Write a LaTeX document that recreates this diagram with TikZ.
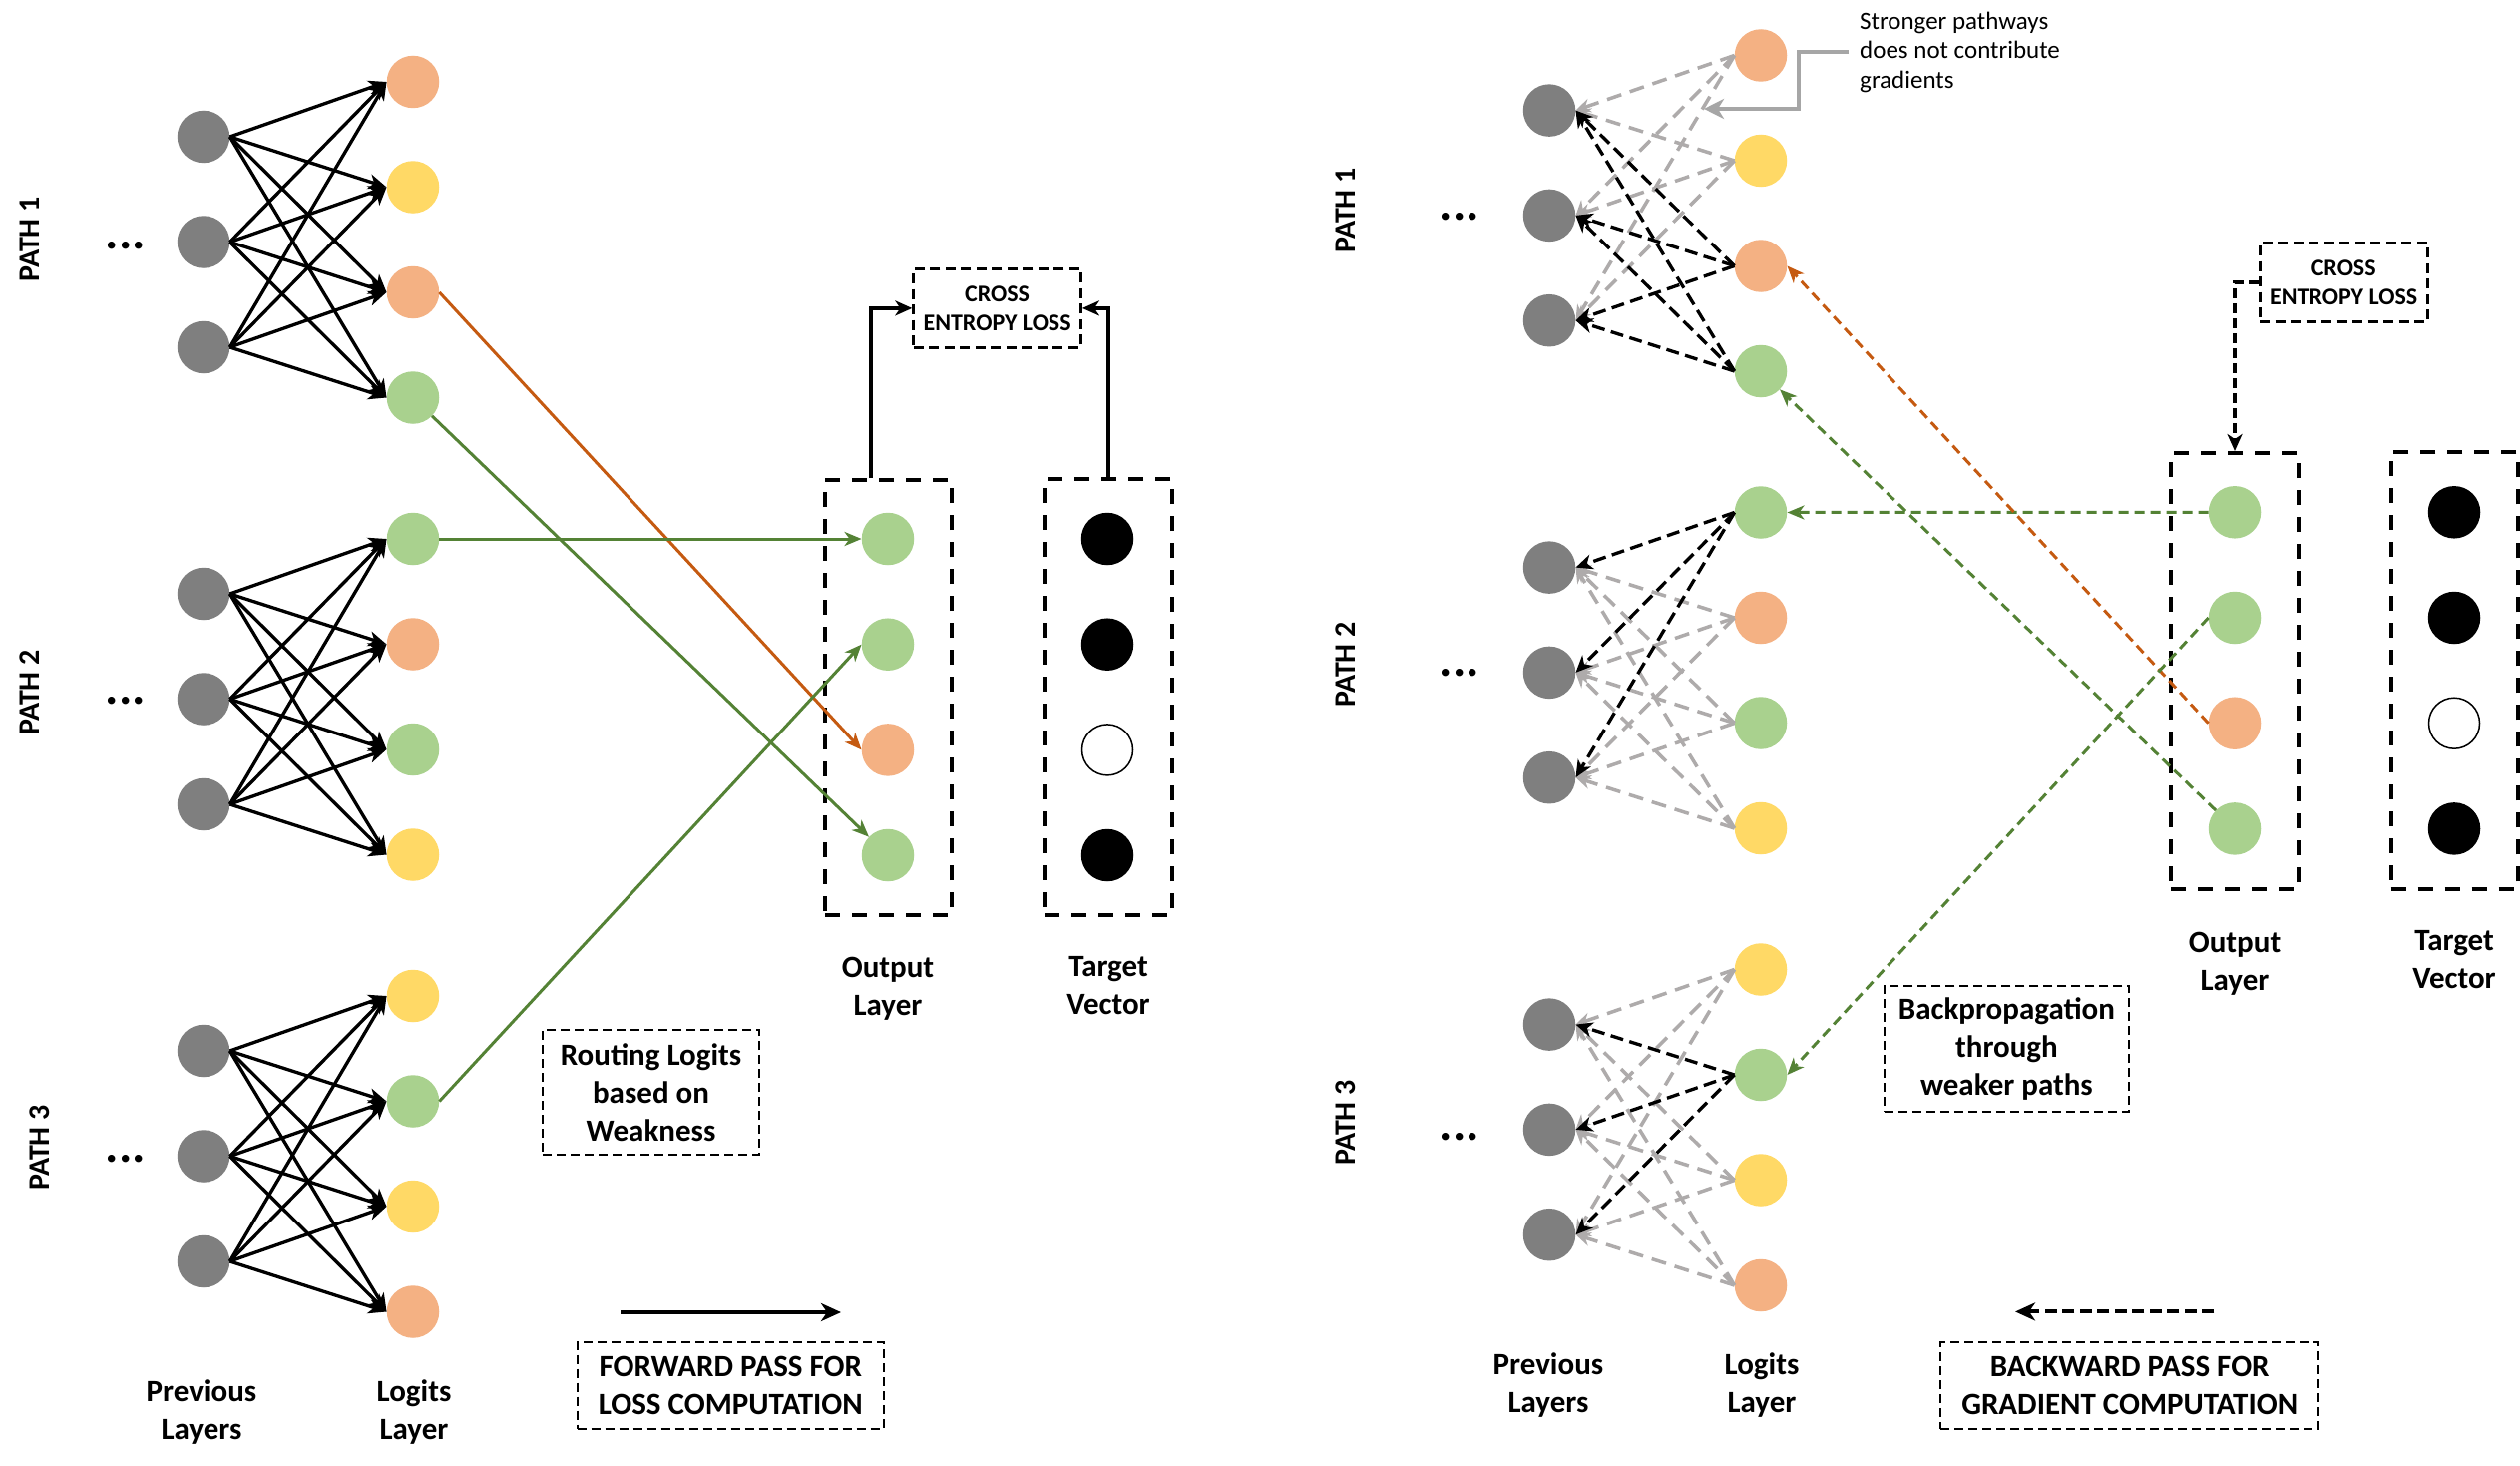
\documentclass[tikz,border=0pt]{standalone}
\usepackage{fontspec}
\setmainfont{Carlito}
\usetikzlibrary{arrows.meta}
\definecolor{ngrayc}{HTML}{7F7F7F}
\definecolor{norange}{HTML}{F4B183}
\definecolor{nyellow}{HTML}{FFD966}
\definecolor{ngreen}{HTML}{A9D18E}
\definecolor{dorange}{HTML}{C55A11}
\definecolor{dgreen}{HTML}{548235}
\definecolor{lightline}{HTML}{AEABAB}
\definecolor{annotgray}{HTML}{A6A6A6}
\begin{document}
\begin{tikzpicture}[x=1pt,y=-1pt,
  neuron/.style={circle, minimum size=52.5pt, inner sep=0pt, draw=none},
  fwdedge/.style={line width=3.3pt, -{Stealth[length=18pt,width=15pt,inset=5pt]}},
  bwdedge/.style={line width=3.3pt, dash pattern=on 13pt off 6.5pt, -{Stealth[length=17pt,width=15pt,inset=5pt]}},
  weakedge/.style={line width=3.5pt, draw=lightline, dash pattern=on 15pt off 9pt, -{Stealth[length=15pt,width=14pt,inset=5pt]}},
  colarrow/.style={line width=3pt, -{Stealth[length=17pt,width=14pt,inset=5pt]}},
  coldash/.style={colarrow, dash pattern=on 10pt off 6pt},
  bigbox/.style={draw, line width=4pt, dash pattern=on 15pt off 12pt, inner sep=0pt},
  cebox/.style={draw, line width=3pt, dash pattern=on 10pt off 5.5pt, align=center, font=\fontsize{24}{29}\selectfont\bfseries, inner sep=0pt},
  notebox/.style={draw, line width=2pt, dash pattern=on 9pt off 5pt, align=center, font=\fontsize{31}{38}\selectfont\bfseries, inner sep=0pt},
  lbl/.style={align=center, font=\fontsize{31}{38}\selectfont\bfseries, inner sep=0pt},
  pathlbl/.style={rotate=90, font=\fontsize{30}{30}\selectfont\bfseries, inner sep=0pt},
  dotlbl/.style={anchor=base, font=\fontsize{50}{50}\selectfont\bfseries, inner sep=0pt},
  annotarrow/.style={line width=4pt, draw=annotgray, -{Stealth[length=20pt,width=20pt,inset=6pt]}},
  ceconn/.style={line width=3.5pt, -{Stealth[length=17pt,width=15pt,inset=5pt]}},
  ceconndash/.style={ceconn, dash pattern=on 10pt off 5pt},
  passarrow/.style={line width=4pt, -{Stealth[length=20pt,width=18pt,inset=6pt]}}
]
\fill[white] (0,0) rectangle (2526,1469);
\useasboundingbox (0,0) rectangle (2526,1469);

% ---------------- LEFT PANEL ----------------
\foreach \p/\dy/\ca/\cb/\cc/\cd in {1/0/norange/nyellow/norange/ngreen, 2/458/ngreen/norange/ngreen/nyellow, 3/916/nyellow/ngreen/nyellow/norange} {
  \foreach \i in {1,2,3}
    \node[neuron, fill=ngrayc] (Lg\p\i) at ({204},{137+\dy+(\i-1)*105.5}) {};
  \node[neuron, fill=\ca] (Ll\p1) at ({414},{82+\dy}) {};
  \node[neuron, fill=\cb] (Ll\p2) at ({414},{82+\dy+105.5}) {};
  \node[neuron, fill=\cc] (Ll\p3) at ({414},{82+\dy+211}) {};
  \node[neuron, fill=\cd] (Ll\p4) at ({414},{82+\dy+316.5}) {};
}
\foreach \p in {1,2,3}
  \foreach \i in {1,2,3}
    \foreach \j in {1,2,3,4}
      \draw[fwdedge] (Lg\p\i.east) -- (Ll\p\j.west);

\node[pathlbl] (Lpath1) at (30,240) {PATH 1};
\node[pathlbl] (Lpath2) at (30,694) {PATH 2};
\node[pathlbl] (Lpath3) at (40,1150) {PATH 3};
\node[dotlbl] (Ldots1) at (126,249) {...};
\node[dotlbl] (Ldots2) at (126,705) {...};
\node[dotlbl] (Ldots3) at (126,1164) {...};

% output / target
\node[bigbox, minimum width=127pt, minimum height=436pt] (LoutBox) at (890.5,699) {};
\node[bigbox, minimum width=128pt, minimum height=437pt] (LtgtBox) at (1111,698.5) {};
\node[neuron, fill=ngreen] (Lo1) at (890,540) {};
\node[neuron, fill=ngreen] (Lo2) at (890,645.7) {};
\node[neuron, fill=norange] (Lo3) at (890,751.4) {};
\node[neuron, fill=ngreen] (Lo4) at (890,857) {};
\node[neuron, fill=black] (Lt1) at (1110,540) {};
\node[neuron, fill=black] (Lt2) at (1110,645.7) {};
\node[neuron, fill=white, draw=black, line width=1.5pt, minimum size=51pt] (Lt3) at (1110,751.4) {};
\node[neuron, fill=black] (Lt4) at (1110,857) {};

\draw[colarrow, draw=dorange] (Ll13.east) -- (Lo3.west);
\draw[colarrow, draw=dgreen] (Ll14) -- (Lo4);
\draw[colarrow, draw=dgreen] (Ll21.east) -- (Lo1.west);
\draw[colarrow, draw=dgreen] (Ll32.east) -- (Lo2.west);

\node[cebox, minimum width=167.6pt, minimum height=78.8pt] (ceL) at (999.6,308.9) {CROSS\\ENTROPY LOSS};
\draw[ceconn] ([xshift=-17.5pt]LoutBox.north) |- (ceL.west);
\draw[ceconn] (LtgtBox.north) |- (ceL.east);

\node[lbl] (LoutLbl) at (890,991) {Output\\Layer};
\node[lbl] (LtgtLbl) at (1111,987.5) {Target\\Vector};
\node[lbl] (LprevLbl) at (202,1415.5) {Previous\\Layers};
\node[lbl] (LlogLbl) at (415,1415.5) {Logits\\Layer};

\node[notebox, minimum width=217pt, minimum height=125pt] (routing) at (652.5,1094.7) {Routing Logits\\based on\\Weakness};
\coordinate (fwdS) at (622,1315);
\coordinate (fwdE) at (843,1315);
\draw[passarrow] (fwdS) -- (fwdE);
\node[notebox, minimum width=307.3pt, minimum height=86.7pt] (fwdBox) at (732.3,1388.3) {FORWARD PASS FOR\\LOSS COMPUTATION};

% ---------------- RIGHT PANEL ----------------
\foreach \p/\dy/\ca/\cb/\cc/\cd in {1/0/norange/nyellow/norange/ngreen, 2/458/ngreen/norange/ngreen/nyellow, 3/916/nyellow/ngreen/nyellow/norange} {
  \foreach \i in {1,2,3}
    \node[neuron, fill=ngrayc] (Rg\p\i) at ({1553},{110.6+\dy+(\i-1)*105.3}) {};
  \node[neuron, fill=\ca] (Rl\p1) at ({1765},{55.5+\dy}) {};
  \node[neuron, fill=\cb] (Rl\p2) at ({1765},{55.5+\dy+105.5}) {};
  \node[neuron, fill=\cc] (Rl\p3) at ({1765},{55.5+\dy+211}) {};
  \node[neuron, fill=\cd] (Rl\p4) at ({1765},{55.5+\dy+316.5}) {};
}
\foreach \p/\j in {1/1,1/2,2/2,2/3,2/4,3/1,3/3,3/4}
  \foreach \i in {1,2,3}
    \draw[weakedge] (Rl\p\j.west) -- (Rg\p\i.east);
\foreach \p/\j in {1/3,1/4,2/1,3/2}
  \foreach \i in {1,2,3}
    \draw[bwdedge] (Rl\p\j.west) -- (Rg\p\i.east);

\node[pathlbl] (Rpath1) at (1349,211) {PATH 1};
\node[pathlbl] (Rpath2) at (1349,666) {PATH 2};
\node[pathlbl] (Rpath3) at (1349,1125) {PATH 3};
\node[dotlbl] (Rdots1) at (1463,220) {...};
\node[dotlbl] (Rdots2) at (1463,677) {...};
\node[dotlbl] (Rdots3) at (1463,1142) {...};

\node[bigbox, minimum width=128pt, minimum height=437pt] (RoutBox) at (2240,672.5) {};
\node[bigbox, minimum width=127.3pt, minimum height=438pt] (RtgtBox) at (2460.3,672) {};
\node[neuron, fill=ngreen] (Ro1) at (2240,513.3) {};
\node[neuron, fill=ngreen] (Ro2) at (2240,619) {};
\node[neuron, fill=norange] (Ro3) at (2240,724.7) {};
\node[neuron, fill=ngreen] (Ro4) at (2240,830.4) {};
\node[neuron, fill=black] (Rt1) at (2460,513.3) {};
\node[neuron, fill=black] (Rt2) at (2460,619) {};
\node[neuron, fill=white, draw=black, line width=1.5pt, minimum size=51pt] (Rt3) at (2460,724.7) {};
\node[neuron, fill=black] (Rt4) at (2460,830.4) {};

\draw[coldash, draw=dgreen] (Ro1.west) -- (Rl21.east);
\draw[coldash, draw=dorange] (Ro3.west) -- (Rl13.east);
\draw[coldash, draw=dgreen] (Ro4) -- (Rl14);
\draw[coldash, draw=dgreen] (Ro2.west) -- (Rl32.east);

\node[cebox, minimum width=168.3pt, minimum height=79pt] (ceR) at (2349.2,282.8) {CROSS\\ENTROPY LOSS};
\draw[ceconndash] (ceR.west) -| (RoutBox.north);

\node[anchor=west, align=left, font=\fontsize{25}{29.5}\selectfont, inner sep=0pt] (note) at (1864,52) {Stronger pathways\\does not contribute\\gradients};
\coordinate (annotTip) at (1708,109);
\draw[annotarrow] ([xshift=-11pt]note.west) -- ++(-50,0) |- (annotTip);

\node[lbl] (RoutLbl) at (2240,965.3) {Output\\Layer};
\node[lbl] (RtgtLbl) at (2460,961.6) {Target\\Vector};
\node[lbl] (RprevLbl) at (1552,1388.3) {Previous\\Layers};
\node[lbl] (RlogLbl) at (1766,1388.3) {Logits\\Layer};

\node[notebox, minimum width=245.2pt, minimum height=126.2pt] (backprop) at (2011.4,1050.9) {Backpropagation\\through\\weaker paths};
\coordinate (bwdS) at (2219.4,1314.4);
\coordinate (bwdE) at (2020,1314.4);
\draw[passarrow, dash pattern=on 12pt off 5.5pt] (bwdS) -- (bwdE);
\node[notebox, minimum width=378.7pt, minimum height=86.8pt] (bwdBox) at (2134.7,1388.6) {BACKWARD PASS FOR\\GRADIENT COMPUTATION};
\end{tikzpicture}
\end{document}
